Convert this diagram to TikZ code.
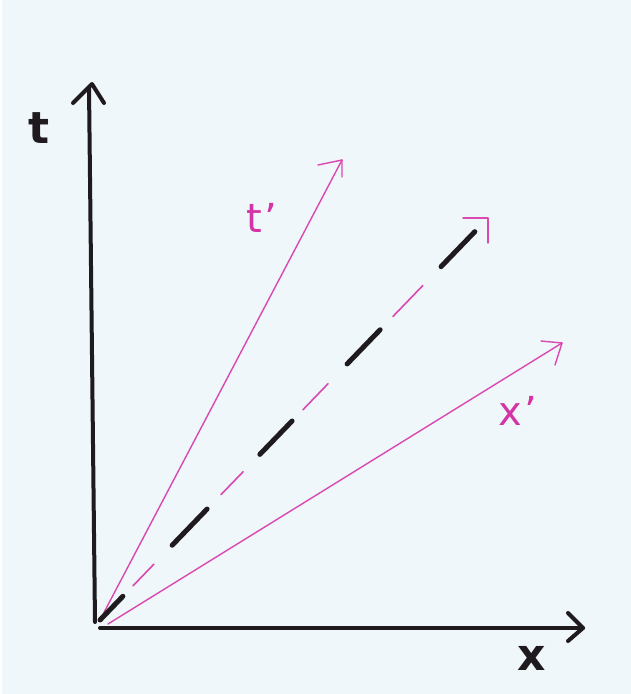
\documentclass[tikz,border=0pt]{standalone}
\usepackage{fontspec}
\setsansfont{DejaVu Sans}
\usetikzlibrary{calc}
\definecolor{bg}{RGB}{239,247,250}
\definecolor{ink}{RGB}{30,26,30}
\definecolor{pinkl}{RGB}{218,72,178}
\definecolor{pinkt}{RGB}{212,52,165}
\tikzset{
  axis/.style={draw=ink,line width=4pt,line cap=round,line join=round},
  pinkline/.style={draw=pinkl,line width=1.4pt,line cap=round,line join=round},
  blackdash/.style={draw=ink,line width=5pt,line cap=round},
  pinkdash/.style={draw=pinkl,line width=1.6pt,line cap=round},
  blacklabel/.style={text=ink,font=\sffamily\bfseries\fontsize{44}{44}\selectfont,inner sep=0pt},
  pinklabel/.style={text=pinkt,font=\sffamily\fontsize{40}{40}\selectfont,inner sep=0pt}
}
\begin{document}
\begin{tikzpicture}[x=1pt,y=-1pt]
\fill[bg] (0,0) rectangle (631,694);
\fill[white] (0,0) rectangle (2,694);
\useasboundingbox (0,0) rectangle (631,694);
% key points
\coordinate (Ot) at (95,622);
\coordinate (Ox) at (100,628);
\coordinate (Ttop) at (89,88);
\coordinate (Tap) at (92,84);
\coordinate (TaL) at (73,103);
\coordinate (TaR) at (104,103);
\coordinate (Xend) at (583,628);
\coordinate (XaU) at (568,613);
\coordinate (XaD) at (568,641);
\coordinate (Dstart) at (100,620);
\coordinate (D) at (488,218);
\coordinate (Tp) at (342,160);
\coordinate (TpA) at (318,165);
\coordinate (TpB) at (342,177);
\coordinate (Xpstart) at (108,624);
\coordinate (Xp) at (562,343);
\coordinate (XpA) at (541,341);
\coordinate (XpB) at (555,365);
% axes
\draw[axis] (Ot) -- (Ttop);
\draw[axis] (TaL) -- (Tap) -- (TaR);
\draw[axis] (Ox) -- (Xend);
\draw[axis] (XaU) -- (Xend) -- (XaD);
% t' line
\draw[pinkline] (Dstart) -- (Tp);
\draw[pinkline] (TpA) -- (Tp) -- (TpB);
% x' line
\draw[pinkline] (Xpstart) -- (Xp);
\draw[pinkline] (XpA) -- (Xp) -- (XpB);
% light-cone diagonal
\foreach \a/\b in {0.0/0.059,0.186/0.276,0.412/0.495,0.637/0.722,0.879/0.966}
  \draw[blackdash] ($(Dstart)!\a!(D)$) -- ($(Dstart)!\b!(D)$);
\foreach \a/\b in {0.085/0.139,0.312/0.369,0.523/0.588,0.755/0.832}
  \draw[pinkdash] ($(Dstart)!\a!(D)$) -- ($(Dstart)!\b!(D)$);
\draw[pinkline] ($(D)+(-25,0)$) -- (D) -- ($(D)+(0,25)$);
% labels
\node[blacklabel] (lt) at (39,128) {t};
\node[blacklabel] (lx) at (532,658) {x};
\node[pinklabel] (ltp) at (262,218) {t\kern2pt'};
\node[pinklabel] (lxp) at (518,411) {x\kern2pt'};
\end{tikzpicture}
\end{document}
